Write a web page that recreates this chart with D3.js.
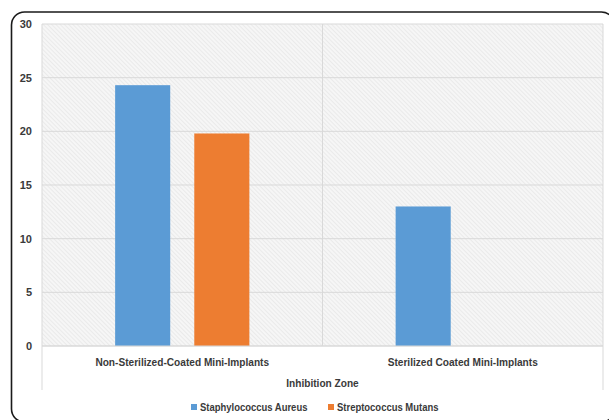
<!DOCTYPE html>
<html><head><meta charset="utf-8">
<script src="https://cdn.jsdelivr.net/npm/d3@7"></script>
<style>
html,body{margin:0;padding:0;background:#fff;}
svg{display:block;}
text{font-family:"Liberation Sans",Arial,sans-serif;font-weight:bold;fill:#3a3a3a;}
</style></head>
<body><svg id="c" width="609" height="420"></svg>
<script>
const categories = ["Non-Sterilized-Coated Mini-Implants", "Sterilized Coated Mini-Implants"];
const seriesNames = ["Staphylococcus Aureus", "Streptococcus Mutans"];
const staphValues = [24.3, 13.0];
const streptoValues = [19.8, 0];
const yTicks = [0, 5, 10, 15, 20, 25, 30];
const axisTitle = "Inhibition Zone";
const colors = ["#5b9bd5", "#ed7d31"];

const svg = d3.select("#c");
const W = 609, H = 420;
const m = {left: 42, right: 6, top: 24, bottom: 74};
const pw = W - m.left - m.right, ph = H - m.top - m.bottom;

// condense text horizontally (Calibri-like proportions)
function condense(sel, f) {
  sel.each(function() {
    const w = this.getComputedTextLength();
    d3.select(this).attr("textLength", w * f).attr("lengthAdjust", "spacingAndGlyphs");
  });
}

// frame
svg.append("rect").attr("x", 11.5).attr("y", 12).attr("width", 603).attr("height", 410)
  .attr("rx", 13).attr("fill", "none").attr("stroke", "#1a1a1a").attr("stroke-width", 1.6);

const defs = svg.append("defs");
const pat = defs.append("pattern").attr("id", "hatch").attr("width", 3).attr("height", 3)
  .attr("patternUnits", "userSpaceOnUse").attr("patternTransform", "rotate(-45)");
pat.append("rect").attr("width", 3).attr("height", 3).attr("fill", "#f6f6f6");
pat.append("line").attr("x1", 0).attr("y1", 0).attr("x2", 0).attr("y2", 3)
  .attr("stroke", "#e2e2e2").attr("stroke-width", 1.2);

const g = svg.append("g").attr("transform", `translate(${m.left},${m.top})`);

const y = d3.scaleLinear().domain([0, 30]).range([ph, 0]);
const x0 = d3.scaleBand().domain(categories).range([0, pw]).padding(0);
const x1 = d3.scaleBand().domain(seriesNames).range([0, x0.bandwidth()])
  .paddingInner(0.304).paddingOuter(0.924);

g.append("rect").attr("width", pw).attr("height", ph).attr("fill", "url(#hatch)");

// gridlines
g.selectAll(".grid").data(yTicks).enter().append("line")
  .attr("x1", 0).attr("x2", pw).attr("y1", d => y(d)).attr("y2", d => y(d))
  .attr("stroke", "#d9d9d9").attr("stroke-width", 1);
// vertical category dividers
g.selectAll(".vdiv").data([pw / 2]).enter().append("line")
  .attr("x1", d => d).attr("x2", d => d).attr("y1", 0).attr("y2", ph)
  .attr("stroke", "#d9d9d9");
g.selectAll(".edge").data([0, pw]).enter().append("line")
  .attr("x1", d => d).attr("x2", d => d).attr("y1", 0).attr("y2", ph + 44)
  .attr("stroke", "#d9d9d9");

// bars
const rows = categories.map((c, i) => ({cat: c, vals: [staphValues[i], streptoValues[i]]}));
const grp = g.selectAll(".grp").data(rows).enter().append("g")
  .attr("transform", d => `translate(${x0(d.cat)},0)`);
grp.selectAll("rect").data(d => d.vals.map((v, j) => ({s: seriesNames[j], v, j})))
  .enter().append("rect")
  .attr("x", d => x1(d.s)).attr("width", x1.bandwidth())
  .attr("y", d => y(d.v)).attr("height", d => ph - y(d.v))
  .attr("fill", d => colors[d.j]);

// zero axis line
g.append("line").attr("x1", 0).attr("x2", pw).attr("y1", y(0)).attr("y2", y(0))
  .attr("stroke", "#d9d9d9");

// y labels
g.selectAll(".yl").data(yTicks).enter().append("text")
  .attr("x", -10).attr("y", d => y(d)).attr("dy", "0.35em")
  .attr("text-anchor", "end").attr("font-size", 11).text(d => d);

// category labels
const cl = g.selectAll(".cl").data(categories).enter().append("text")
  .attr("x", d => x0(d) + x0.bandwidth() / 2).attr("y", ph + 16).attr("dy", "0.35em")
  .attr("text-anchor", "middle").attr("font-size", 11).text(d => d);
condense(cl, 0.92);

const tt = g.append("text").attr("x", pw / 2).attr("y", ph + 37).attr("dy", "0.35em")
  .attr("text-anchor", "middle").attr("font-size", 11).text(axisTitle);
condense(tt, 0.92);

// legend
const legX = [191, 328];
const leg = svg.selectAll(".leg").data(seriesNames).enter().append("g")
  .attr("transform", (d, i) => `translate(${legX[i]},407)`);
leg.append("rect").attr("x", 0).attr("y", -3).attr("width", 6).attr("height", 6)
  .attr("fill", (d, i) => colors[i]);
const lt = leg.append("text").attr("x", 9).attr("y", 0).attr("dy", "0.35em")
  .attr("font-size", 11).text(d => d);
condense(lt, 0.86);
</script></body></html>
